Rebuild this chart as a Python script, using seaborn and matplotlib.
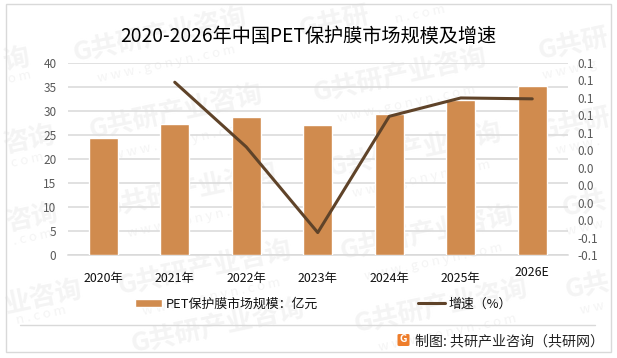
import matplotlib
matplotlib.use('Agg')
import matplotlib.pyplot as plt
import matplotlib.patches as patches
import numpy as np
import seaborn as sns

years = ['2020年', '2021年', '2022年', '2023年', '2024年', '2025年', '2026E']
market_size = [24.5, 27.4, 28.7, 27.2, 29.3, 32.2, 35.3]
growth = [np.nan, 0.118, 0.044, -0.054, 0.079, 0.100, 0.099]
left_ticks = [0, 5, 10, 15, 20, 25, 30, 35, 40]
right_ticks = [-0.08, -0.06, -0.04, -0.02, 0.0, 0.02, 0.04, 0.06, 0.08, 0.10, 0.12, 0.14]
right_labels = ['-0.1', '-0.1', '0.0', '0.0', '0.0', '0.0', '0.0', '0.1', '0.1', '0.1', '0.1', '0.1']

title = '2020-2026年中国PET保护膜市场规模及增速'
bar_label = 'PET保护膜市场规模：亿元'
line_label = '增速（%）'
source = '制图: 共研产业咨询（共研网）'

wm_full = 'G共研产业咨询'
wm_url = 'w w w . g o n y n . c o m'
# watermark name and url, with their centres in reference pixels
marks = [
    (wm_full, 160, 35, wm_url, 166, 64),
    (wm_full, 176, 112, wm_url, 182, 141),
    (wm_full, 400, 75, wm_url, 406, 104),
    (wm_full, 415, 150, wm_url, 421, 179),
    (wm_full, 190, 190, wm_url, 196, 219),
    (wm_full, 205, 268, wm_url, 211, 297),
    (wm_full, 427, 233, wm_url, 433, 262),
    (wm_full, 441, 306, wm_url, 447, 333),
    (wm_full, 218, 326, '', 0, 0),
    ('G共研', 335, 23, 'n . c o m', 420, 14),
    ('G共研', 574, 45, 'w w w . g', 570, 70),
    ('G共研', 576, 125, 'w w w .', 578, 146),
    ('G共', 585, 205, 'w w w', 585, 228),
    ('G共', 588, 287, 'w w', 592, 308),
    ('询', 16, 60, 'o m', 20, 77),
    ('咨询', 29, 140, 'c o m', 27, 160),
    ('咨询', 32, 218, '. c o m', 33, 237),
    ('业咨询', 43, 297, 'n . c o m', 41, 315),
]

W, H = 617, 358
sns.set_theme(style='white')
plt.rcParams['font.family'] = ['Noto Sans CJK SC', 'DejaVu Sans']

fig = plt.figure(figsize=(W / 100, H / 100), dpi=100)
fig.patch.set_facecolor('white')


def px(x, y):
    return x / W, 1 - y / H


# watermarks first so that everything sits on top
for name, nx, ny, url, ux, uy in marks:
    fx, fy = px(nx, ny)
    fig.text(fx, fy, name, fontsize=19, fontweight='bold', color='#f4f4f4',
             rotation=12, ha='center', va='center', rotation_mode='anchor', zorder=-5)
    if url:
        fx, fy = px(ux, uy)
        fig.text(fx, fy, url, fontsize=9.5, color='#f4f4f4',
                 rotation=12, ha='center', va='center', rotation_mode='anchor', zorder=-5)

# outer frame and footer rule
x0, y0 = px(5.5, 352)
fig.add_artist(patches.Rectangle((x0, y0), 605 / W, 348.5 / H, transform=fig.transFigure,
                                 fill=False, edgecolor='#d9d9d9', linewidth=1))
fig.add_artist(plt.Line2D([20 / W, 595 / W], [1 - 325 / H, 1 - 325 / H], color='#d9d9d9', linewidth=1))

ax = fig.add_axes([67.5 / W, 1 - 255.3 / H, 500.5 / W, 192.3 / H], zorder=2)
ax.patch.set_alpha(0)
sns.barplot(x=years, y=market_size, color='#d08b4e', saturation=1, width=0.4, ax=ax,
            label=bar_label, zorder=3)
ax.set_xlim(-0.5, 6.5)
ax.set_ylim(0, 40)
ax.set_yticks(left_ticks)
ax.grid(axis='y', color='#d9d9d9', linewidth=1.1, zorder=1)
ax.set_axisbelow(True)
ax.tick_params(axis='y', labelsize=8.5, labelcolor='#595959', length=0, pad=8)
ax.tick_params(axis='x', labelsize=8.9, labelcolor='#111111', length=0, pad=12)
ax.xaxis.get_major_ticks()[6].set_pad(8)
for side in ['top', 'left', 'right']:
    ax.spines[side].set_visible(False)
ax.spines['bottom'].set_color('#d9d9d9')
ax.spines['bottom'].set_linewidth(1.1)
ax.set_xlabel('')
ax.set_ylabel('')

ax2 = ax.twinx()
ax2.set_zorder(3)
ax2.patch.set_alpha(0)
sns.lineplot(x=years, y=growth, color='#5f4329', linewidth=2.2, sort=False, ax=ax2,
             label=line_label, errorbar=None)
ax2.set_xlim(-0.5, 6.5)
ax2.set_ylim(-0.08, 0.14)
ax2.set_yticks(right_ticks)
ax2.set_yticklabels(right_labels)
ax2.tick_params(axis='y', labelsize=8.5, labelcolor='#595959', length=0, pad=7)
for side in ['top', 'left', 'right', 'bottom']:
    ax2.spines[side].set_visible(False)
ax2.set_xlabel('')
ax2.set_ylabel('')

h1, l1 = ax.get_legend_handles_labels()
h2, l2 = ax2.get_legend_handles_labels()
ax.legend().remove()
ax2.legend().remove()
fig.legend(h1 + h2, l1 + l2, ncol=2, frameon=False, fontsize=9.3, loc='center',
           bbox_to_anchor=px(323.5, 304), handlelength=2.1, handleheight=0.62,
           handletextpad=0.25, columnspacing=7.8, labelcolor='#111111')

fx, fy = px(308, 36)
fig.text(fx, fy, title, fontsize=13.8, color='black', ha='center', va='center')

# footer logo and source
lx, ly = px(397.5, 346)
fig.add_artist(patches.FancyBboxPatch((lx, ly), 12 / W, 12 / H, transform=fig.transFigure,
                                      boxstyle='round,pad=0,rounding_size=0.003',
                                      facecolor='#ee7d2b', edgecolor='none'))
fx, fy = px(403.5, 339.5)
fig.text(fx, fy, 'G', fontsize=7.5, fontweight='bold', color='white', ha='center', va='center')
fx, fy = px(415, 341)
fig.text(fx, fy, source, fontsize=10.1, color='#222222', ha='left', va='center')

fig.savefig('out.png', dpi=100)
